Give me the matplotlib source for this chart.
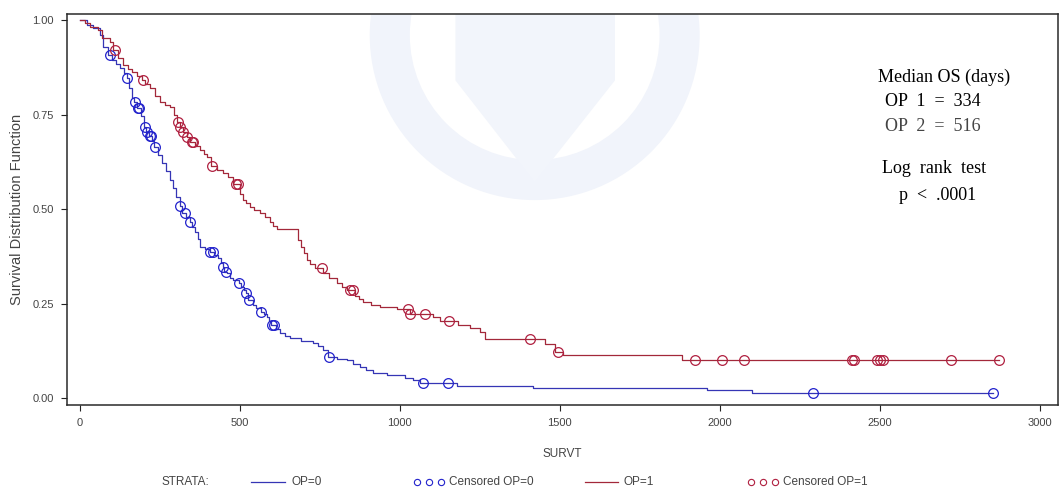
import numpy as np
import matplotlib.pyplot as plt
from matplotlib.lines import Line2D
from matplotlib.patches import Ellipse, Polygon

plt.rcParams['font.family'] = ['Liberation Sans', 'DejaVu Sans']

# Kaplan-Meier step knots (time in days, survival)
op0_time = [0, 22, 41, 62, 72, 87, 100, 112, 125, 137, 147, 155, 162, 170, 180, 190, 200,
            207, 215, 225, 232, 244, 256, 268, 281, 290, 300, 312, 320, 332, 344, 352, 360,
            368, 375, 390, 406, 418, 431, 440, 447, 452, 460, 469, 480, 497, 505, 512, 519,
            525, 541, 550, 566, 575, 584, 590, 598, 612, 625, 640, 656, 690, 728, 745, 759,
            775, 805, 834, 855, 875, 895, 916, 960, 1016, 1041, 1062, 1178, 1416, 1959, 2100]
op0_surv = [1.0, .987, .979, .960, .929, .907, .895, .884, .873, .860, .847, .820, .794, .783,
            .767, .745, .717, .704, .693, .680, .664, .643, .622, .600, .577, .555, .532, .508,
            .489, .478, .466, .452, .440, .420, .400, .393, .386, .378, .370, .358, .347, .333,
            .330, .318, .312, .304, .293, .286, .278, .259, .245, .238, .228, .221, .214, .205,
            .193, .182, .172, .165, .159, .152, .146, .137, .127, .108, .104, .100, .090, .082,
            .074, .066, .062, .053, .048, .040, .032, .026, .021, .013]
op0_end = 2853
op0_censor = [94, 147, 172, 181, 184, 203, 209, 219, 222, 234, 312, 328, 344, 406, 416, 447,
              456, 497, 519, 528, 566, 600, 606, 778, 1072, 1150, 2291, 2853]

op1_time = [0, 15, 31, 56, 69, 94, 103, 118, 134, 150, 162, 180, 194, 205, 219, 235, 250,
            265, 281, 293, 303, 312, 322, 334, 345, 360, 375, 387, 397, 410, 428, 447, 462,
            478, 500, 509, 520, 531, 545, 562, 578, 594, 605, 616, 681, 690, 700, 709, 720,
            734, 760, 780, 803, 818, 834, 860, 872, 884, 910, 938, 991, 1031, 1103, 1125, 1181,
            1219, 1250, 1266, 1453, 1484, 1509, 1881]
op1_surv = [1.0, .992, .981, .974, .952, .942, .921, .900, .881, .870, .862, .852, .841, .830,
            .820, .800, .783, .776, .770, .750, .730, .716, .704, .690, .677, .666, .656, .646,
            .638, .614, .604, .595, .585, .565, .540, .524, .515, .505, .497, .489, .478, .466,
            .456, .447, .418, .400, .383, .365, .355, .344, .330, .318, .304, .295, .286, .270,
            .262, .254, .247, .241, .235, .222, .214, .204, .193, .185, .175, .156, .143, .122,
            .114, .101]
op1_end = 2872
op1_censor = [109, 197, 306, 312, 322, 334, 350, 353, 412, 487, 494, 756, 844, 853, 1025,
              1031, 1078, 1153, 1406, 1494, 1922, 2006, 2075, 2412, 2419, 2491, 2500, 2509,
              2722, 2872]

blue_line, blue_mark = '#3535B5', '#2222CC'
red_line, red_mark = '#A3283A', '#B02040'


def surv_at(times, surv, t):
    idx = np.searchsorted(times, t, side='right') - 1
    return np.asarray(surv)[idx]


fig = plt.figure(figsize=(10.6, 4.95), dpi=100)
ax = fig.add_axes([0.0632, 0.1818, 0.9348, 0.79])

# faint university seal behind the plot (scanned watermark)
ax.add_patch(Ellipse((0.472, 0.946), 0.333, 0.844, transform=ax.transAxes,
                     facecolor='#F1F4FB', edgecolor='none', zorder=0))
ax.add_patch(Ellipse((0.472, 0.946), 0.252, 0.639, transform=ax.transAxes,
                     facecolor='white', edgecolor='none', zorder=0))
ax.add_patch(Polygon([(0.392, 1.0), (0.553, 1.0), (0.553, 0.83), (0.472, 0.57), (0.392, 0.83)],
                     closed=True, transform=ax.transAxes, facecolor='#F2F5FB',
                     edgecolor='none', zorder=0))

for times, surv, end, cens, lc, mc in [
        (op0_time, op0_surv, op0_end, op0_censor, blue_line, blue_mark),
        (op1_time, op1_surv, op1_end, op1_censor, red_line, red_mark)]:
    t = list(times) + [end]
    s = list(surv) + [surv[-1]]
    ax.step(t, s, where='post', color=lc, lw=0.9)
    ax.plot(cens, surv_at(times, surv, cens), 'o', mfc='none', mec=mc, ms=7, mew=0.9)

ax.set_xlim(-40, 3056)
ax.set_ylim(-0.0185, 1.016)
ax.set_xticks(np.arange(0, 3001, 500))
ax.set_yticks([0, 0.25, 0.5, 0.75, 1.0])
ax.set_yticklabels(['0.00', '0.25', '0.50', '0.75', '1.00'])
ax.tick_params(direction='out', length=4.5, width=0.8, colors='#222222', labelsize=8,
               labelcolor='#444444', pad=5)
for sp in ax.spines.values():
    sp.set_color('#2a2a2a')
    sp.set_linewidth(1.1)

ax.set_xlabel('SURVT', fontsize=8.5, color='#444444', labelpad=14)
ax.set_ylabel('Survival Distribution Function', fontsize=10.5, color='#444444', labelpad=6)

# annotation block
serif = ['Liberation Serif', 'DejaVu Serif']
notes = [('Median OS (days)', 0.818, 0.839, 'black'),
         ('OP  1  =  334', 0.826, 0.775, 'black'),
         ('OP  2  =  516', 0.826, 0.711, '#444444'),
         ('Log  rank  test', 0.823, 0.606, 'black'),
         ('p  <  .0001', 0.840, 0.537, 'black')]
for txt, x, y, c in notes:
    ax.text(x, y, txt, transform=ax.transAxes, ha='left', va='center', fontsize=13,
            family=serif, color=c, zorder=4)

# legend row at the bottom
ly = 1 - 482 / 495
fs = 8.5
fig.text(161 / 1060, ly, 'STRATA:', fontsize=fs, color='#444444', va='center')
fig.add_artist(Line2D([251 / 1060, 285 / 1060], [ly, ly], color=blue_line, lw=0.9))
fig.text(291 / 1060, ly, 'OP=0', fontsize=fs, color='#444444', va='center')
fig.add_artist(Line2D([417 / 1060, 429 / 1060, 441 / 1060], [ly] * 3, ls='none', marker='o',
                      mfc='none', mec=blue_mark, ms=4.5, mew=0.8))
fig.text(449 / 1060, ly, 'Censored OP=0', fontsize=fs, color='#444444', va='center')
fig.add_artist(Line2D([585 / 1060, 618 / 1060], [ly, ly], color=red_line, lw=0.9))
fig.text(624 / 1060, ly, 'OP=1', fontsize=fs, color='#444444', va='center')
fig.add_artist(Line2D([751 / 1060, 763 / 1060, 775 / 1060], [ly] * 3, ls='none', marker='o',
                      mfc='none', mec=red_mark, ms=4.5, mew=0.8))
fig.text(783 / 1060, ly, 'Censored OP=1', fontsize=fs, color='#444444', va='center')

fig.savefig('out.png', dpi=100)
